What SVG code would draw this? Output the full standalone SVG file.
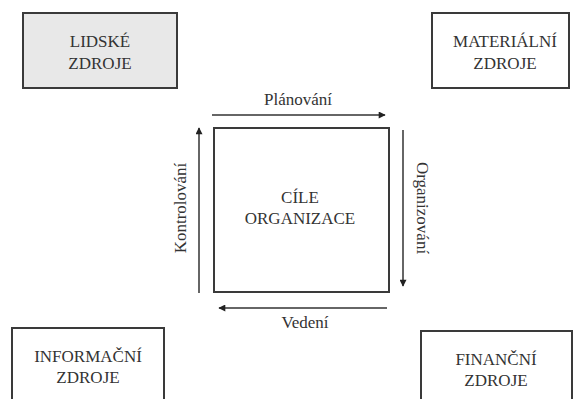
<svg xmlns="http://www.w3.org/2000/svg" width="573" height="399" viewBox="0 0 573 399">
<defs>
<style>
.box{fill:#fff;stroke:#3a3a3a;stroke-width:2}
.t{font-size:17px;fill:#333;text-anchor:middle}
.c{stroke:#333;stroke-width:1.5;fill:none;marker-end:url(#ah)}
</style>
<marker id="ah" viewBox="0 0 10 10" refX="9" refY="5" markerWidth="8" markerHeight="7" markerUnits="userSpaceOnUse" orient="auto">
<path d="M0,0 L10,5 L0,10 z" fill="#222"/>
</marker>
</defs>
<rect width="573" height="399" fill="#fff"/>
<g font-family="Liberation Serif, DejaVu Serif, serif">
<g id="lidske">
<rect class="box" x="23" y="13" width="154" height="75" style="fill:#e8e8e8"/>
<text class="t" x="100" y="47">LIDSKÉ</text>
<text class="t" x="100" y="69">ZDROJE</text>
</g>
<g id="materialni">
<rect class="box" x="432" y="13" width="137" height="75"/>
<text class="t" x="505" y="47">MATERIÁLNÍ</text>
<text class="t" x="505" y="69">ZDROJE</text>
</g>
<g id="informacni">
<rect class="box" x="12" y="328" width="152" height="80"/>
<text class="t" x="88" y="362">INFORMAČNÍ</text>
<text class="t" x="88" y="383">ZDROJE</text>
</g>
<g id="financni">
<rect class="box" x="421" y="331" width="151" height="80"/>
<text class="t" x="496" y="365">FINANČNÍ</text>
<text class="t" x="496" y="386">ZDROJE</text>
</g>
<g id="cile">
<rect class="box" x="214" y="128" width="175" height="164"/>
<text class="t" x="300" y="203">CÍLE</text>
<text class="t" x="300" y="224">ORGANIZACE</text>
</g>
<g id="connectors">
<line class="c" x1="212" y1="115" x2="385" y2="115"/>
<line class="c" x1="403" y1="130" x2="403" y2="286"/>
<line class="c" x1="387" y1="308" x2="219" y2="308"/>
<line class="c" x1="199" y1="293" x2="199" y2="128"/>
<text class="t" x="298" y="105">Plánování</text>
<text class="t" x="305" y="328">Vedení</text>
<text class="t" transform="translate(186,208) rotate(-90)">Kontrolování</text>
<text class="t" transform="translate(417,208) rotate(90)">Organizování</text>
</g>
</g>
</svg>
